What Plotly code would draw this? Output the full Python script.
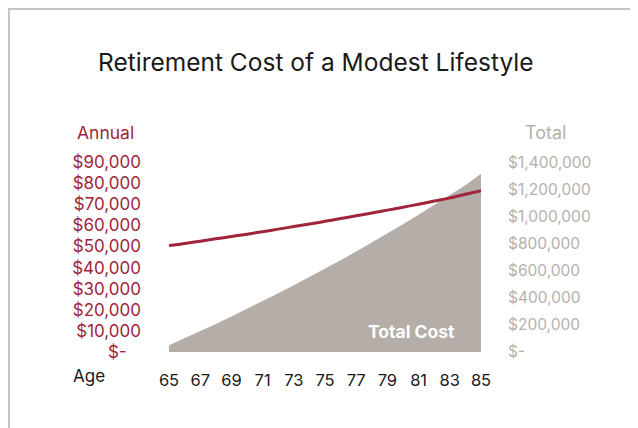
import plotly.graph_objects as go

ages = list(range(65, 86))
annual = [50400, 51400, 52500, 53600, 54700, 55800, 57000, 58200, 59400, 60600,
          61900, 63200, 64500, 65800, 67200, 68600, 70000, 71500, 73000, 74700, 76400]
total = [50400, 101800, 154300, 207900, 262600, 318400, 375400, 433600, 493000, 553600,
         615500, 678700, 743200, 809000, 876200, 944800, 1014800, 1086300, 1159300, 1234000, 1318000]

x_ticks = list(range(65, 86, 2))
annual_ticks = [0, 10000, 20000, 30000, 40000, 50000, 60000, 70000, 80000, 90000]
annual_labels = ["$-\u00a0\u00a0\u00a0", "$10,000", "$20,000", "$30,000", "$40,000", "$50,000",
                 "$60,000", "$70,000", "$80,000", "$90,000"]
total_ticks = [0, 200000, 400000, 600000, 800000, 1000000, 1200000, 1400000]
total_labels = ["$-", "$200,000", "$400,000", "$600,000", "$800,000", "$1,000,000",
                "$1,200,000", "$1,400,000"]

RED = "#a0253a"
GRAY_AREA = "#b4ada8"
GRAY_TXT = "#b5b0ac"
FONT = "Inter"

# page body has an 8px margin; figure covers the visible 630x420 area
W, H = 630, 420
L, R, T, B = 161, 157, 142, 76
ph = H - T - B

fig = go.Figure()
fig.add_trace(go.Scatter(x=ages, y=total, mode="lines", fill="tozeroy",
                         line=dict(width=0, color=GRAY_AREA), fillcolor=GRAY_AREA,
                         yaxis="y", hoverinfo="skip", showlegend=False))
fig.add_trace(go.Scatter(x=ages, y=annual, mode="lines",
                         line=dict(width=3, color=RED, shape="spline"),
                         yaxis="y2", showlegend=False))

r1 = 90000 * ph / (352 - 162)
r2 = 1400000 * ph / (352 - 162.7)

fig.update_layout(
    width=W, height=H,
    margin=dict(l=L, r=R, t=T, b=B),
    paper_bgcolor="white", plot_bgcolor="white",
    font=dict(family=FONT),
    showlegend=False,
    xaxis=dict(range=[65, 85], tickvals=x_ticks, ticktext=[str(v) for v in x_ticks],
               showgrid=False, zeroline=False, showline=False, ticks="",
               tickfont=dict(size=16.5, color="#1a1a1a", family=FONT), ticklabelstandoff=16),
    yaxis=dict(range=[0, r2], side="right", tickvals=total_ticks, ticktext=total_labels,
               showgrid=False, zeroline=False, showline=False, ticks="",
               tickfont=dict(size=15.5, color=GRAY_TXT, family=FONT), ticklabelstandoff=26),
    yaxis2=dict(range=[0, r1], side="left", overlaying="y", tickvals=annual_ticks,
                ticktext=annual_labels, showgrid=False, zeroline=False, showline=False,
                ticks="", tickfont=dict(size=17, color=RED, family=FONT), ticklabelstandoff=27),
)

def px(xp):
    return (xp - 169) / 312

def py(yp):
    return (352 - yp) / ph

fig.add_annotation(text="Retirement Cost of a Modest Lifestyle", xref="paper", yref="paper",
                   x=px(316), y=py(62), showarrow=False, xanchor="center", yanchor="middle",
                   font=dict(size=24.5, color="#1a1a1a", family=FONT))
fig.add_annotation(text="Annual", xref="paper", yref="paper", x=px(105), y=py(133),
                   showarrow=False, xanchor="center", yanchor="middle",
                   font=dict(size=17.5, color=RED, family=FONT))
fig.add_annotation(text="Total", xref="paper", yref="paper", x=px(545.5), y=py(133),
                   showarrow=False, xanchor="center", yanchor="middle",
                   font=dict(size=18, color=GRAY_TXT, family=FONT))
fig.add_annotation(text="Age", xref="paper", yref="paper", x=px(89), y=py(376),
                   showarrow=False, xanchor="center", yanchor="middle",
                   font=dict(size=17, color="#1a1a1a", family=FONT))
fig.add_annotation(text="<b>Total Cost</b>", xref="paper", yref="paper", x=px(411), y=py(331),
                   showarrow=False, xanchor="center", yanchor="middle",
                   font=dict(size=17.5, color="white", family=FONT))

fig.add_shape(type="rect", xref="paper", yref="paper",
              x0=px(9), x1=px(631), y0=py(470), y1=py(9),
              line=dict(color="#c4c4c4", width=2), fillcolor="rgba(0,0,0,0)", layer="below")

fig.write_html("out.html")
